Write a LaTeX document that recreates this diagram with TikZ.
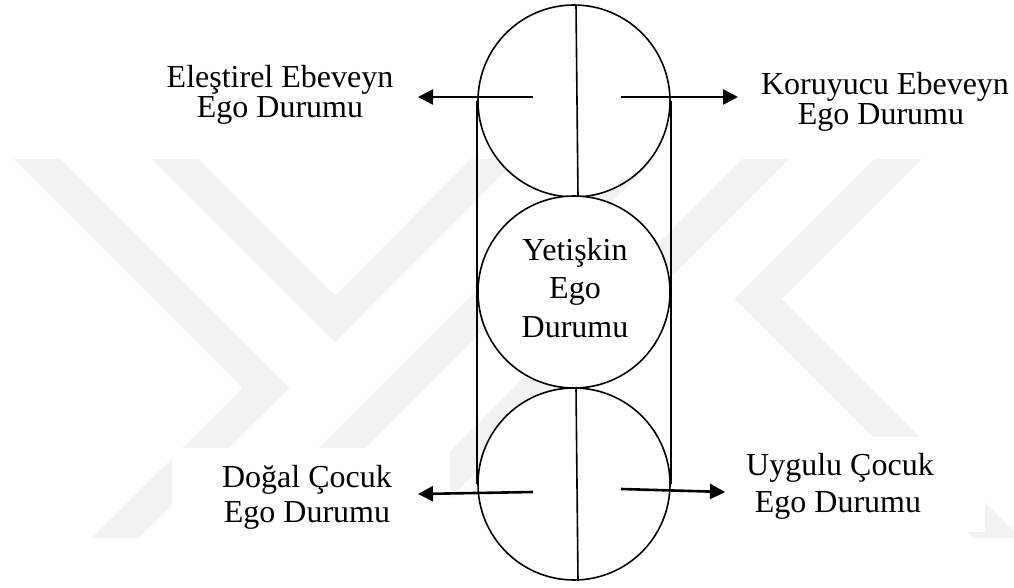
\documentclass[tikz,border=0pt]{standalone}
\usepackage{fontspec}
\setmainfont{Liberation Serif}
\usetikzlibrary{arrows.meta}
\begin{document}
\begin{tikzpicture}[x=1pt,y=-1pt,
  egocircle/.style={circle,draw=black,fill=white,line width=1.6pt,minimum size=192pt,inner sep=0pt},
  arr/.style={line width=2.6pt,-{Triangle[length=15pt,width=15pt]}},
  thinline/.style={line width=1.6pt},
  lbl/.style={font=\fontsize{32}{32}\selectfont,inner sep=0pt,anchor=base},
  wm/.style={line width=33pt,draw=black!5,line join=miter,line cap=butt}]
\useasboundingbox (0,0) rectangle (1014,588);
\fill[white] (0,0) rectangle (1014,588);
% faint background watermark
\begin{scope}
\clip (0,160) rectangle (1014,537);
\draw[wm] (-12,110) -- (266,388) -- (53,600);
\draw[wm] (126,110) -- (335,319) -- (543,110);
\draw[wm] (680,110) -- (190,600);
\draw[wm] (815,110) -- (325,600);
\draw[wm] (947,110) -- (758,299) -- (1059,600);
\end{scope}
\fill[white] (172,448) rectangle (450,540);
\fill[white] (700,437) rectangle (985,532);
% circles
\node[egocircle] (top) at (574,101) {};
\node[egocircle] (mid) at (574,292) {};
\node[egocircle] (bot) at (574,484) {};
% side lines
\draw[thinline] (top.west) -- (bot.west);
\draw[thinline] (top.east) -- (bot.east);
% dividers
\coordinate (td0) at (576,5);
\coordinate (td1) at (578,197);
\coordinate (bd0) at (576,388);
\coordinate (bd1) at (578,581);
\draw[thinline] (td0) -- (td1);
\draw[thinline] (bd0) -- (bd1);
% arrows
\coordinate (tl0) at (533,97);
\coordinate (tl1) at (418,97);
\coordinate (tr0) at (621,97);
\coordinate (tr1) at (738,97);
\coordinate (bl0) at (533,492);
\coordinate (bl1) at (418,494);
\coordinate (br0) at (621,489);
\coordinate (br1) at (725,492);
\draw[arr] (tl0) -- (tl1);
\draw[arr] (tr0) -- (tr1);
\draw[arr] (bl0) -- (bl1);
\draw[arr] (br0) -- (br1);
% labels
\node[lbl] (ee1) at (280,88) {Eleştirel Ebeveyn};
\node[lbl] (ee2) at (280,118) {Ego Durumu};
\node[lbl] (ke1) at (885,95) {Koruyucu Ebeveyn};
\node[lbl] (ke2) at (881,125) {Ego Durumu};
\node[lbl] (ye1) at (575,260) {Yetişkin};
\node[lbl] (ye2) at (575,298) {Ego};
\node[lbl] (ye3) at (575,337) {Durumu};
\node[lbl] (dc1) at (307,487) {Doğal Çocuk};
\node[lbl] (dc2) at (307,522) {Ego Durumu};
\node[lbl] (uc1) at (840,475) {Uygulu Çocuk};
\node[lbl] (uc2) at (838,512) {Ego Durumu};
\end{tikzpicture}
\end{document}
